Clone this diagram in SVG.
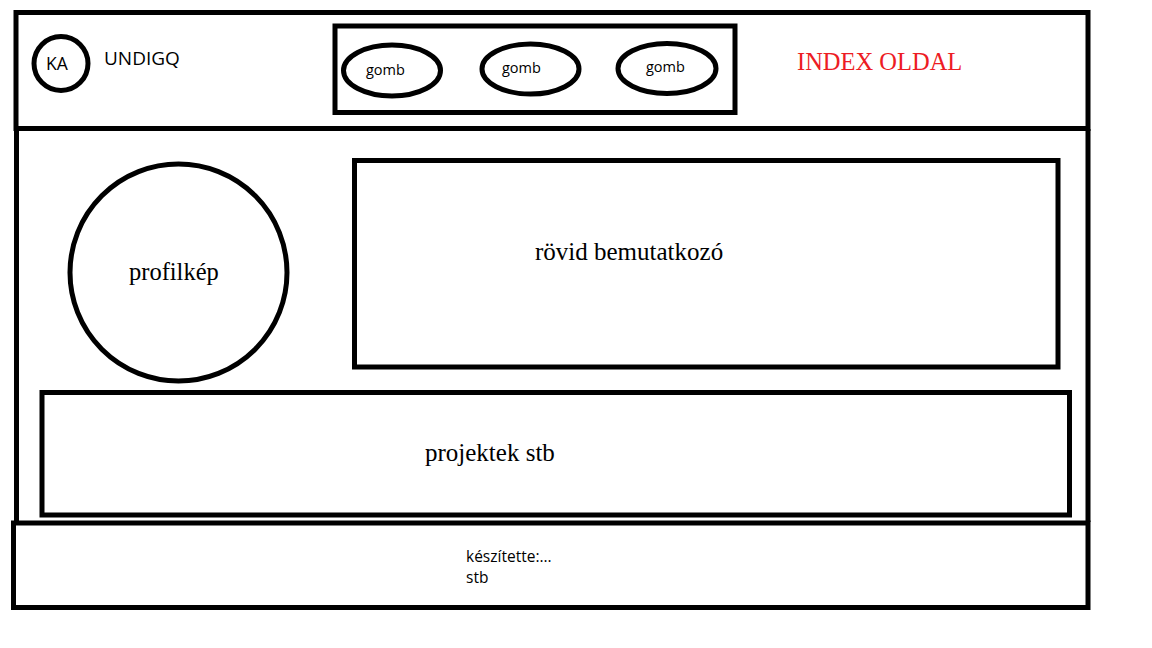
<svg xmlns="http://www.w3.org/2000/svg" width="1152" height="648" viewBox="0 0 1152 648">
<style>
.box{fill:none;stroke:#000;stroke-width:5}
.sans{font-family:"Open Sans","Noto Sans",sans-serif;fill:#000}
.serif{font-family:"Liberation Serif",serif;fill:#000}
</style>
<rect width="1152" height="648" fill="#fff"/>
<g id="header">
<rect class="box" x="16" y="12.5" width="1072" height="116"/>
</g>
<g id="body">
<path class="box" d="M16.5 129 V522 M1088 129 V522"/>
</g>
<g id="ka">
<circle class="box" cx="61" cy="63.5" r="27" stroke-width="4"/>
<text class="sans" x="46" y="70" font-size="17.5">KA</text>
</g>
<g id="undigq">
<text class="sans" x="104" y="65" font-size="19">UNDIGQ</text>
</g>
<g id="buttons">
<rect class="box" x="335" y="26" width="400" height="86.5"/>
</g>
<g id="gomb1">
<ellipse class="box" cx="392" cy="70.5" rx="48.5" ry="25.5" stroke-width="4"/>
<text class="sans" x="366" y="75" font-size="14.5">gomb</text>
</g>
<g id="gomb2">
<ellipse class="box" cx="530.5" cy="69" rx="48.5" ry="25" stroke-width="4"/>
<text class="sans" x="502" y="73" font-size="14.5">gomb</text>
</g>
<g id="gomb3">
<ellipse class="box" cx="667" cy="68.5" rx="49" ry="25" stroke-width="4"/>
<text class="sans" x="646" y="72" font-size="14.5">gomb</text>
</g>
<g id="index">
<text x="797" y="70" font-size="24.5" font-family="'Liberation Serif',serif" fill="#ED1C24">INDEX OLDAL</text>
</g>
<g id="profilkep">
<circle class="box" cx="178.5" cy="272.5" r="108.5" stroke-width="4"/>
<text class="serif" x="129" y="280" font-size="24.5">profilkép</text>
</g>
<g id="bemutatkozo">
<rect class="box" x="354.5" y="160.5" width="703.5" height="206.5"/>
<text class="serif" x="535" y="260" font-size="25">rövid bemutatkozó</text>
</g>
<g id="projektek">
<rect class="box" x="42" y="392.5" width="1027.5" height="122.5"/>
<text class="serif" x="425" y="461" font-size="25">projektek stb</text>
</g>
<g id="footer">
<rect class="box" x="13.5" y="523" width="1074.5" height="84.5"/>
<text class="sans" x="466" y="562" font-size="15.5">készítette:...</text>
<text class="sans" x="466" y="583" font-size="15.5">stb</text>
</g>
<g id="connectors"/>
</svg>
